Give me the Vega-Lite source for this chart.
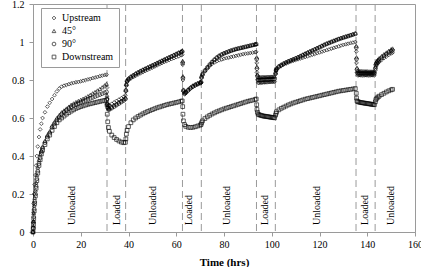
{
"$schema": "https://vega.github.io/schema/vega-lite/v6.json",
"width": 382, "height": 228,
"autosize": "none",
"padding": {"left": 33, "top": 4, "right": 6, "bottom": 35},
"config": {"view": {"stroke": "#9a9a9a", "strokeWidth": 1}, "font": "Liberation Serif",
"axisX": {"title": "Time (hrs)", "values": [0, 20, 40, 60, 80, 100, 120, 140, 160], "grid": false, "labelFlush": false, "labelOverlap": false, "labelFont": "Liberation Serif", "labelFontSize": 10, "labelColor": "#000", "titleFont": "Liberation Serif", "titleFontSize": 11, "titleFontWeight": "bold", "titleColor": "#000", "domainColor": "#9a9a9a", "tickColor": "#9a9a9a", "tickSize": 4, "labelPadding": 3, "titlePadding": 7},
"axisY": {"title": null, "values": [0, 0.2, 0.4, 0.6, 0.8, 1, 1.2], "format": "~g", "grid": false, "labelFont": "Liberation Serif", "labelFontSize": 10, "labelColor": "#000", "domainColor": "#9a9a9a", "tickColor": "#9a9a9a", "tickSize": 4, "labelPadding": 5}
},
"datasets": {
"bounds": [{"t": 31}, {"t": 38.8}, {"t": 62.6}, {"t": 70.5}, {"t": 93.6}, {"t": 101.5}, {"t": 135.3}, {"t": 143.3}],
"labels": [{"t": 16.3, "text": "Unloaded"}, {"t": 35, "text": "Loaded"}, {"t": 50.2, "text": "Unloaded"}, {"t": 65.2, "text": "Loaded"}, {"t": 81.2, "text": "Unloaded"}, {"t": 97.2, "text": "Loaded"}, {"t": 118.8, "text": "Unloaded"}, {"t": 139.1, "text": "Loaded"}, {"t": 150, "text": "Unloaded"}],
"obs": [
{"t":0,"Upstream":0,"45°":0,"90°":0,"Downstream":0},
{"t":0.1,"Upstream":0.05,"45°":0.03,"90°":0.02,"Downstream":0.02},
{"t":0.2,"Upstream":0.1,"45°":0.06,"90°":0.05,"Downstream":0.04},
{"t":0.3,"Upstream":0.15,"45°":0.1,"90°":0.08,"Downstream":0.07},
{"t":0.5,"Upstream":0.2,"45°":0.14,"90°":0.12,"Downstream":0.11},
{"t":0.7,"Upstream":0.25,"45°":0.18,"90°":0.16,"Downstream":0.15},
{"t":1,"Upstream":0.3,"45°":0.22,"90°":0.2,"Downstream":0.19},
{"t":1.3,"Upstream":0.35,"45°":0.26,"90°":0.24,"Downstream":0.23},
{"t":1.6,"Upstream":0.4,"45°":0.3,"90°":0.28,"Downstream":0.27},
{"t":2,"Upstream":0.45,"45°":0.34,"90°":0.32,"Downstream":0.31},
{"t":2.5,"Upstream":0.5,"45°":0.38,"90°":0.36,"Downstream":0.35},
{"t":3,"Upstream":0.54,"45°":0.41,"90°":0.39,"Downstream":0.38},
{"t":3.5,"Upstream":0.57,"45°":0.43,"90°":0.42,"Downstream":0.41},
{"t":4,"Upstream":0.6,"45°":0.45,"90°":0.44,"Downstream":0.43},
{"t":5,"Upstream":0.63,"45°":0.48,"90°":0.47,"Downstream":0.46},
{"t":6,"Upstream":0.66,"45°":0.51,"90°":0.5,"Downstream":0.49},
{"t":7,"Upstream":0.68,"45°":0.53,"90°":0.52,"Downstream":0.51},
{"t":8,"Upstream":0.7,"45°":0.56,"90°":0.55,"Downstream":0.535},
{"t":9,"Upstream":0.72,"45°":0.58,"90°":0.57,"Downstream":0.555},
{"t":10,"Upstream":0.74,"45°":0.6,"90°":0.59,"Downstream":0.575},
{"t":11,"Upstream":0.755,"45°":0.615,"90°":0.605,"Downstream":0.59},
{"t":12,"Upstream":0.765,"45°":0.63,"90°":0.62,"Downstream":0.6},
{"t":13,"Upstream":0.77,"45°":0.64,"90°":0.63,"Downstream":0.61},
{"t":14,"Upstream":0.774,"45°":0.65,"90°":0.64,"Downstream":0.62},
{"t":15,"Upstream":0.778,"45°":0.66,"90°":0.65,"Downstream":0.628},
{"t":16,"Upstream":0.782,"45°":0.67,"90°":0.658,"Downstream":0.636},
{"t":17,"Upstream":0.785,"45°":0.677,"90°":0.665,"Downstream":0.643},
{"t":18,"Upstream":0.788,"45°":0.684,"90°":0.672,"Downstream":0.65},
{"t":19,"Upstream":0.79,"45°":0.69,"90°":0.678,"Downstream":0.655},
{"t":20,"Upstream":0.793,"45°":0.696,"90°":0.683,"Downstream":0.66},
{"t":21,"Upstream":0.796,"45°":0.702,"90°":0.688,"Downstream":0.664},
{"t":22,"Upstream":0.8,"45°":0.708,"90°":0.693,"Downstream":0.668},
{"t":23,"Upstream":0.803,"45°":0.715,"90°":0.698,"Downstream":0.672},
{"t":24,"Upstream":0.806,"45°":0.722,"90°":0.703,"Downstream":0.675},
{"t":25,"Upstream":0.81,"45°":0.73,"90°":0.708,"Downstream":0.678},
{"t":26,"Upstream":0.813,"45°":0.737,"90°":0.713,"Downstream":0.681},
{"t":27,"Upstream":0.816,"45°":0.745,"90°":0.718,"Downstream":0.684},
{"t":28,"Upstream":0.82,"45°":0.753,"90°":0.723,"Downstream":0.687},
{"t":29,"Upstream":0.823,"45°":0.762,"90°":0.728,"Downstream":0.69},
{"t":30,"Upstream":0.826,"45°":0.772,"90°":0.733,"Downstream":0.692},
{"t":30.8,"Upstream":0.828,"45°":0.78,"90°":0.737,"Downstream":0.695},
{"t":31,"Upstream":0.76,"45°":0.72,"90°":0.7,"Downstream":0.67},
{"t":31.1,"Upstream":0.7,"45°":0.68,"90°":0.67,"Downstream":0.62},
{"t":31.3,"Upstream":0.67,"45°":0.66,"90°":0.655,"Downstream":0.58},
{"t":31.6,"Upstream":0.665,"45°":0.65,"90°":0.645,"Downstream":0.55},
{"t":32,"Upstream":0.668,"45°":0.652,"90°":0.645,"Downstream":0.53},
{"t":33,"Upstream":0.675,"45°":0.66,"90°":0.652,"Downstream":0.51},
{"t":34,"Upstream":0.682,"45°":0.668,"90°":0.66,"Downstream":0.497},
{"t":35,"Upstream":0.69,"45°":0.676,"90°":0.668,"Downstream":0.487},
{"t":36,"Upstream":0.697,"45°":0.684,"90°":0.676,"Downstream":0.479},
{"t":37,"Upstream":0.704,"45°":0.692,"90°":0.684,"Downstream":0.473},
{"t":38,"Upstream":0.712,"45°":0.7,"90°":0.692,"Downstream":0.47},
{"t":38.7,"Upstream":0.72,"45°":0.708,"90°":0.7,"Downstream":0.472},
{"t":38.9,"Upstream":0.74,"45°":0.75,"90°":0.745,"Downstream":0.49},
{"t":39.1,"Upstream":0.77,"45°":0.78,"90°":0.775,"Downstream":0.515},
{"t":39.4,"Upstream":0.79,"45°":0.8,"90°":0.795,"Downstream":0.535},
{"t":40,"Upstream":0.8,"45°":0.81,"90°":0.805,"Downstream":0.555},
{"t":41,"Upstream":0.808,"45°":0.82,"90°":0.815,"Downstream":0.575},
{"t":42,"Upstream":0.815,"45°":0.828,"90°":0.823,"Downstream":0.59},
{"t":43,"Upstream":0.822,"45°":0.836,"90°":0.831,"Downstream":0.6},
{"t":44,"Upstream":0.829,"45°":0.843,"90°":0.838,"Downstream":0.608},
{"t":45,"Upstream":0.835,"45°":0.85,"90°":0.845,"Downstream":0.615},
{"t":46,"Upstream":0.841,"45°":0.856,"90°":0.851,"Downstream":0.622},
{"t":47,"Upstream":0.847,"45°":0.862,"90°":0.857,"Downstream":0.628},
{"t":48,"Upstream":0.853,"45°":0.868,"90°":0.863,"Downstream":0.634},
{"t":49,"Upstream":0.859,"45°":0.874,"90°":0.869,"Downstream":0.639},
{"t":50,"Upstream":0.865,"45°":0.88,"90°":0.875,"Downstream":0.644},
{"t":51,"Upstream":0.871,"45°":0.886,"90°":0.881,"Downstream":0.649},
{"t":52,"Upstream":0.877,"45°":0.892,"90°":0.887,"Downstream":0.654},
{"t":53,"Upstream":0.883,"45°":0.898,"90°":0.893,"Downstream":0.658},
{"t":54,"Upstream":0.889,"45°":0.904,"90°":0.899,"Downstream":0.662},
{"t":55,"Upstream":0.895,"45°":0.91,"90°":0.905,"Downstream":0.666},
{"t":56,"Upstream":0.9,"45°":0.916,"90°":0.911,"Downstream":0.67},
{"t":57,"Upstream":0.905,"45°":0.922,"90°":0.917,"Downstream":0.673},
{"t":58,"Upstream":0.91,"45°":0.928,"90°":0.923,"Downstream":0.676},
{"t":59,"Upstream":0.915,"45°":0.934,"90°":0.929,"Downstream":0.679},
{"t":60,"Upstream":0.92,"45°":0.94,"90°":0.935,"Downstream":0.682},
{"t":61,"Upstream":0.925,"45°":0.946,"90°":0.941,"Downstream":0.685},
{"t":62,"Upstream":0.93,"45°":0.951,"90°":0.946,"Downstream":0.688},
{"t":62.5,"Upstream":0.933,"45°":0.955,"90°":0.95,"Downstream":0.69},
{"t":62.7,"Upstream":0.88,"45°":0.9,"90°":0.89,"Downstream":0.66},
{"t":62.8,"Upstream":0.8,"45°":0.82,"90°":0.81,"Downstream":0.62},
{"t":63,"Upstream":0.74,"45°":0.75,"90°":0.745,"Downstream":0.585},
{"t":63.5,"Upstream":0.725,"45°":0.735,"90°":0.73,"Downstream":0.565},
{"t":64,"Upstream":0.73,"45°":0.74,"90°":0.735,"Downstream":0.556},
{"t":65,"Upstream":0.742,"45°":0.752,"90°":0.747,"Downstream":0.551},
{"t":66,"Upstream":0.754,"45°":0.763,"90°":0.758,"Downstream":0.55},
{"t":67,"Upstream":0.763,"45°":0.772,"90°":0.767,"Downstream":0.551},
{"t":68,"Upstream":0.77,"45°":0.779,"90°":0.774,"Downstream":0.554},
{"t":69,"Upstream":0.776,"45°":0.785,"90°":0.78,"Downstream":0.558},
{"t":70,"Upstream":0.781,"45°":0.79,"90°":0.785,"Downstream":0.562},
{"t":70.4,"Upstream":0.785,"45°":0.794,"90°":0.789,"Downstream":0.566},
{"t":70.6,"Upstream":0.81,"45°":0.82,"90°":0.815,"Downstream":0.575},
{"t":71,"Upstream":0.825,"45°":0.835,"90°":0.83,"Downstream":0.585},
{"t":72,"Upstream":0.845,"45°":0.852,"90°":0.85,"Downstream":0.597},
{"t":73,"Upstream":0.86,"45°":0.868,"90°":0.866,"Downstream":0.606},
{"t":74,"Upstream":0.874,"45°":0.883,"90°":0.881,"Downstream":0.614},
{"t":75,"Upstream":0.885,"45°":0.897,"90°":0.895,"Downstream":0.621},
{"t":76,"Upstream":0.893,"45°":0.909,"90°":0.907,"Downstream":0.627},
{"t":77,"Upstream":0.899,"45°":0.92,"90°":0.918,"Downstream":0.633},
{"t":78,"Upstream":0.904,"45°":0.929,"90°":0.927,"Downstream":0.638},
{"t":79,"Upstream":0.908,"45°":0.936,"90°":0.934,"Downstream":0.643},
{"t":80,"Upstream":0.912,"45°":0.942,"90°":0.94,"Downstream":0.648},
{"t":81,"Upstream":0.915,"45°":0.947,"90°":0.945,"Downstream":0.652},
{"t":82,"Upstream":0.918,"45°":0.952,"90°":0.95,"Downstream":0.656},
{"t":83,"Upstream":0.921,"45°":0.956,"90°":0.955,"Downstream":0.66},
{"t":84,"Upstream":0.924,"45°":0.96,"90°":0.959,"Downstream":0.664},
{"t":85,"Upstream":0.927,"45°":0.964,"90°":0.963,"Downstream":0.668},
{"t":86,"Upstream":0.93,"45°":0.967,"90°":0.966,"Downstream":0.672},
{"t":87,"Upstream":0.933,"45°":0.97,"90°":0.969,"Downstream":0.676},
{"t":88,"Upstream":0.936,"45°":0.973,"90°":0.972,"Downstream":0.68},
{"t":89,"Upstream":0.938,"45°":0.976,"90°":0.975,"Downstream":0.684},
{"t":90,"Upstream":0.94,"45°":0.979,"90°":0.978,"Downstream":0.688},
{"t":91,"Upstream":0.942,"45°":0.982,"90°":0.981,"Downstream":0.691},
{"t":92,"Upstream":0.944,"45°":0.985,"90°":0.984,"Downstream":0.694},
{"t":93,"Upstream":0.946,"45°":0.988,"90°":0.987,"Downstream":0.697},
{"t":93.5,"Upstream":0.948,"45°":0.99,"90°":0.989,"Downstream":0.7},
{"t":93.7,"Upstream":0.89,"45°":0.92,"90°":0.91,"Downstream":0.67},
{"t":93.8,"Upstream":0.84,"45°":0.87,"90°":0.86,"Downstream":0.645},
{"t":94,"Upstream":0.8,"45°":0.83,"90°":0.82,"Downstream":0.63},
{"t":94.3,"Upstream":0.785,"45°":0.815,"90°":0.8,"Downstream":0.62},
{"t":94.7,"Upstream":0.785,"45°":0.815,"90°":0.8,"Downstream":0.617},
{"t":95.2,"Upstream":0.786,"45°":0.815,"90°":0.8,"Downstream":0.615},
{"t":95.7,"Upstream":0.786,"45°":0.815,"90°":0.8,"Downstream":0.613},
{"t":96.2,"Upstream":0.787,"45°":0.816,"90°":0.801,"Downstream":0.611},
{"t":96.7,"Upstream":0.787,"45°":0.816,"90°":0.801,"Downstream":0.61},
{"t":97.2,"Upstream":0.788,"45°":0.816,"90°":0.802,"Downstream":0.609},
{"t":97.7,"Upstream":0.788,"45°":0.816,"90°":0.802,"Downstream":0.608},
{"t":98.2,"Upstream":0.788,"45°":0.817,"90°":0.802,"Downstream":0.607},
{"t":98.7,"Upstream":0.789,"45°":0.817,"90°":0.803,"Downstream":0.606},
{"t":99.2,"Upstream":0.789,"45°":0.817,"90°":0.803,"Downstream":0.605},
{"t":99.7,"Upstream":0.79,"45°":0.818,"90°":0.803,"Downstream":0.604},
{"t":100.2,"Upstream":0.79,"45°":0.818,"90°":0.804,"Downstream":0.603},
{"t":100.7,"Upstream":0.79,"45°":0.818,"90°":0.804,"Downstream":0.602},
{"t":101.2,"Upstream":0.791,"45°":0.819,"90°":0.805,"Downstream":0.601},
{"t":101.6,"Upstream":0.83,"45°":0.84,"90°":0.835,"Downstream":0.615},
{"t":101.8,"Upstream":0.848,"45°":0.855,"90°":0.852,"Downstream":0.625},
{"t":102,"Upstream":0.856,"45°":0.863,"90°":0.86,"Downstream":0.633},
{"t":103,"Upstream":0.866,"45°":0.874,"90°":0.871,"Downstream":0.643},
{"t":104,"Upstream":0.874,"45°":0.882,"90°":0.879,"Downstream":0.651},
{"t":105,"Upstream":0.881,"45°":0.889,"90°":0.886,"Downstream":0.657},
{"t":106,"Upstream":0.887,"45°":0.895,"90°":0.892,"Downstream":0.663},
{"t":107,"Upstream":0.892,"45°":0.901,"90°":0.898,"Downstream":0.669},
{"t":108,"Upstream":0.897,"45°":0.906,"90°":0.903,"Downstream":0.674},
{"t":109,"Upstream":0.901,"45°":0.911,"90°":0.908,"Downstream":0.679},
{"t":110,"Upstream":0.905,"45°":0.917,"90°":0.913,"Downstream":0.683},
{"t":111,"Upstream":0.909,"45°":0.923,"90°":0.918,"Downstream":0.687},
{"t":112,"Upstream":0.913,"45°":0.929,"90°":0.924,"Downstream":0.691},
{"t":113,"Upstream":0.917,"45°":0.935,"90°":0.93,"Downstream":0.695},
{"t":114,"Upstream":0.921,"45°":0.941,"90°":0.936,"Downstream":0.699},
{"t":115,"Upstream":0.925,"45°":0.947,"90°":0.942,"Downstream":0.702},
{"t":116,"Upstream":0.929,"45°":0.953,"90°":0.948,"Downstream":0.705},
{"t":117,"Upstream":0.933,"45°":0.958,"90°":0.954,"Downstream":0.708},
{"t":118,"Upstream":0.937,"45°":0.964,"90°":0.96,"Downstream":0.711},
{"t":119,"Upstream":0.941,"45°":0.97,"90°":0.966,"Downstream":0.714},
{"t":120,"Upstream":0.945,"45°":0.976,"90°":0.972,"Downstream":0.717},
{"t":121,"Upstream":0.949,"45°":0.982,"90°":0.978,"Downstream":0.72},
{"t":122,"Upstream":0.953,"45°":0.988,"90°":0.984,"Downstream":0.723},
{"t":123,"Upstream":0.957,"45°":0.993,"90°":0.99,"Downstream":0.726},
{"t":124,"Upstream":0.961,"45°":0.998,"90°":0.995,"Downstream":0.729},
{"t":125,"Upstream":0.965,"45°":1.003,"90°":1.0,"Downstream":0.732},
{"t":126,"Upstream":0.969,"45°":1.008,"90°":1.005,"Downstream":0.735},
{"t":127,"Upstream":0.973,"45°":1.013,"90°":1.01,"Downstream":0.738},
{"t":128,"Upstream":0.977,"45°":1.018,"90°":1.015,"Downstream":0.741},
{"t":129,"Upstream":0.981,"45°":1.022,"90°":1.019,"Downstream":0.743},
{"t":130,"Upstream":0.985,"45°":1.026,"90°":1.023,"Downstream":0.745},
{"t":131,"Upstream":0.988,"45°":1.03,"90°":1.027,"Downstream":0.747},
{"t":132,"Upstream":0.991,"45°":1.034,"90°":1.031,"Downstream":0.749},
{"t":133,"Upstream":0.994,"45°":1.038,"90°":1.035,"Downstream":0.751},
{"t":134,"Upstream":0.997,"45°":1.042,"90°":1.039,"Downstream":0.753},
{"t":135,"Upstream":1.0,"45°":1.046,"90°":1.043,"Downstream":0.755},
{"t":135.4,"Upstream":0.95,"45°":0.98,"90°":0.97,"Downstream":0.73},
{"t":135.5,"Upstream":0.89,"45°":0.92,"90°":0.91,"Downstream":0.705},
{"t":135.7,"Upstream":0.84,"45°":0.865,"90°":0.855,"Downstream":0.69},
{"t":136,"Upstream":0.825,"45°":0.848,"90°":0.835,"Downstream":0.686},
{"t":136.5,"Upstream":0.825,"45°":0.847,"90°":0.835,"Downstream":0.684},
{"t":137,"Upstream":0.825,"45°":0.847,"90°":0.835,"Downstream":0.682},
{"t":137.5,"Upstream":0.825,"45°":0.847,"90°":0.835,"Downstream":0.681},
{"t":138,"Upstream":0.825,"45°":0.846,"90°":0.835,"Downstream":0.68},
{"t":138.5,"Upstream":0.825,"45°":0.846,"90°":0.835,"Downstream":0.679},
{"t":139,"Upstream":0.825,"45°":0.846,"90°":0.835,"Downstream":0.678},
{"t":139.5,"Upstream":0.825,"45°":0.846,"90°":0.835,"Downstream":0.677},
{"t":140,"Upstream":0.825,"45°":0.846,"90°":0.835,"Downstream":0.676},
{"t":140.5,"Upstream":0.825,"45°":0.845,"90°":0.835,"Downstream":0.675},
{"t":141,"Upstream":0.825,"45°":0.845,"90°":0.835,"Downstream":0.674},
{"t":141.5,"Upstream":0.825,"45°":0.845,"90°":0.835,"Downstream":0.673},
{"t":142,"Upstream":0.825,"45°":0.845,"90°":0.835,"Downstream":0.672},
{"t":142.5,"Upstream":0.825,"45°":0.845,"90°":0.835,"Downstream":0.671},
{"t":143,"Upstream":0.825,"45°":0.845,"90°":0.835,"Downstream":0.67},
{"t":143.4,"Upstream":0.85,"45°":0.87,"90°":0.86,"Downstream":0.685},
{"t":143.6,"Upstream":0.87,"45°":0.89,"90°":0.88,"Downstream":0.697},
{"t":144,"Upstream":0.88,"45°":0.9,"90°":0.89,"Downstream":0.704},
{"t":144.5,"Upstream":0.888,"45°":0.908,"90°":0.898,"Downstream":0.71},
{"t":145,"Upstream":0.895,"45°":0.915,"90°":0.905,"Downstream":0.715},
{"t":146,"Upstream":0.905,"45°":0.926,"90°":0.916,"Downstream":0.723},
{"t":147,"Upstream":0.915,"45°":0.936,"90°":0.926,"Downstream":0.73},
{"t":148,"Upstream":0.924,"45°":0.945,"90°":0.935,"Downstream":0.737},
{"t":149,"Upstream":0.932,"45°":0.954,"90°":0.944,"Downstream":0.743},
{"t":150,"Upstream":0.94,"45°":0.962,"90°":0.952,"Downstream":0.748},
{"t":150.6,"Upstream":0.944,"45°":0.966,"90°":0.956,"Downstream":0.751}
]
},
"layer": [
{
"data": {"name": "bounds"},
"mark": {"type": "rule", "color": "#9a9a9a", "strokeWidth": 1, "strokeDash": [7, 4]},
"encoding": {
"x": {"field": "t", "type": "quantitative", "scale": {"domain": [0, 160], "nice": false}, "title": "Time (hrs)"}
}
},
{
"data": {"name": "labels"},
"mark": {"type": "text", "angle": 270, "align": "left", "baseline": "middle", "fontSize": 10, "font": "Liberation Serif", "color": "#000"},
"encoding": {
"x": {"field": "t", "type": "quantitative", "scale": {"domain": [0, 160], "nice": false}, "title": "Time (hrs)"},
"y": {"datum": 0.037, "type": "quantitative", "scale": {"domain": [0, 1.2], "nice": false}, "title": null},
"text": {"field": "text", "type": "nominal"}
}
},
{
"data": {"name": "obs"},
"transform": [{"fold": ["Upstream", "45°", "90°", "Downstream"], "as": ["series", "value"]}],
"mark": {"type": "point", "filled": false, "strokeWidth": 0.9, "size": 14, "color": "#000"},
"encoding": {
"x": {"field": "t", "type": "quantitative", "scale": {"domain": [0, 160], "nice": false}, "title": "Time (hrs)"},
"y": {"field": "value", "type": "quantitative", "scale": {"domain": [0, 1.2], "nice": false}, "title": null},
"shape": {"field": "series", "type": "nominal",
"scale": {"domain": ["Upstream", "45°", "90°", "Downstream"], "range": ["diamond", "triangle-up", "circle", "square"]},
"legend": {"title": null, "orient": "none", "legendX": 8, "legendY": 4, "strokeColor": "#9a9a9a", "fillColor": "white", "padding": 5, "labelFont": "Liberation Serif", "labelFontSize": 10, "labelColor": "#000", "symbolStrokeColor": "#000", "symbolStrokeWidth": 0.9, "symbolSize": 14, "rowPadding": 3, "symbolOffset": 3, "labelOffset": 3}}
}
}
]
}
